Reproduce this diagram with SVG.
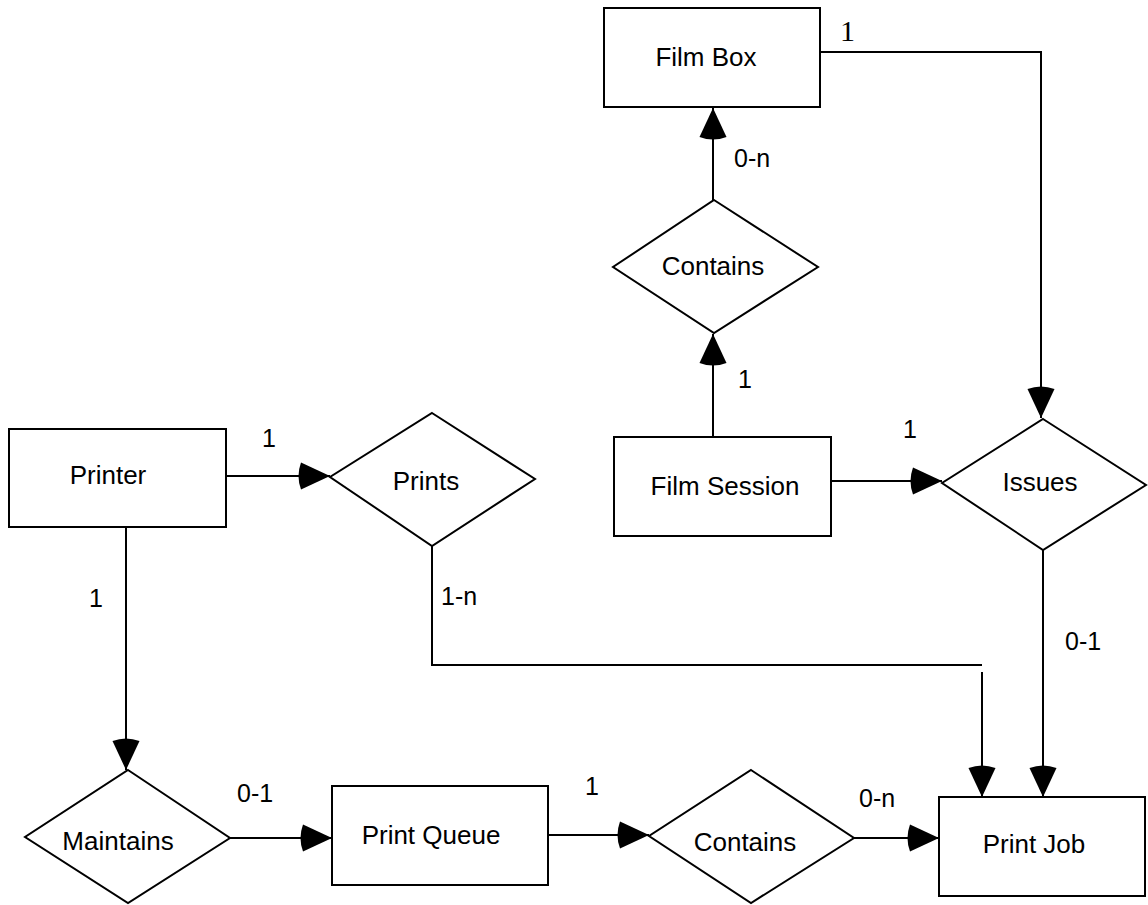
<svg xmlns="http://www.w3.org/2000/svg" width="1148" height="905" viewBox="0 0 1148 905">
<defs>
<marker id="arr" markerUnits="userSpaceOnUse" viewBox="-34 -15 36 30" markerWidth="36" markerHeight="30" refX="0" refY="0" orient="auto">
<path d="M0,0 L-29,-13.5 Q-34,0 -29,13.5 Z" fill="#000"/>
</marker>
</defs>
<style>
.box{fill:#fff;stroke:#000;stroke-width:2}
.dia{fill:#fff;stroke:#000;stroke-width:2}
.t{font-family:"Liberation Sans",Arial,sans-serif;font-size:26px;fill:#000;text-anchor:middle}
.lbl{font-family:"Liberation Sans",Arial,sans-serif;font-size:25px;fill:#000}
.ser{font-family:"Liberation Serif","Times New Roman",serif;font-size:30px;fill:#000}
.c{fill:none;stroke:#000;stroke-width:2}
</style>
<rect width="1148" height="905" fill="#fff"/>
<g id="connectors">
<path class="c" d="M713,200 V108" marker-end="url(#arr)"/>
<path class="c" d="M713,437 V334" marker-end="url(#arr)"/>
<path class="c" d="M820,52 H1041 V418" marker-end="url(#arr)"/>
<path class="c" d="M831,481 H942" marker-end="url(#arr)"/>
<path class="c" d="M1043,550 V797" marker-end="url(#arr)"/>
<path class="c" d="M226,476 H330" marker-end="url(#arr)"/>
<path class="c" d="M432,546 V665 H982 M982,672 V797" marker-end="url(#arr)"/>
<path class="c" d="M126,527 V770" marker-end="url(#arr)"/>
<path class="c" d="M230,838 H332" marker-end="url(#arr)"/>
<path class="c" d="M548,835 H649" marker-end="url(#arr)"/>
<path class="c" d="M854,838 H939" marker-end="url(#arr)"/>
<text class="ser" x="840" y="41">1</text>
<text class="lbl" x="734" y="167">0-n</text>
<text class="lbl" x="738" y="388">1</text>
<text class="lbl" x="903" y="438">1</text>
<text class="lbl" x="1065" y="650">0-1</text>
<text class="lbl" x="262" y="447">1</text>
<text class="lbl" x="441" y="605">1-n</text>
<text class="lbl" x="89" y="607">1</text>
<text class="lbl" x="237" y="802">0-1</text>
<text class="lbl" x="585" y="795">1</text>
<text class="lbl" x="859" y="807">0-n</text>
</g>
<g id="film-box">
<rect class="box" x="604" y="8" width="216" height="99"/>
<text class="t" x="706" y="66">Film Box</text>
</g>
<g id="contains-top">
<polygon class="dia" points="714,200 818,267 714,333 613,267"/>
<text class="t" x="713" y="275">Contains</text>
</g>
<g id="film-session">
<rect class="box" x="614" y="437" width="217" height="99"/>
<text class="t" x="725" y="495">Film Session</text>
</g>
<g id="issues">
<polygon class="dia" points="1043,419 1146,485 1043,550 942,483"/>
<text class="t" x="1040" y="491">Issues</text>
</g>
<g id="printer">
<rect class="box" x="9" y="429" width="217" height="98"/>
<text class="t" x="108" y="484">Printer</text>
</g>
<g id="prints">
<polygon class="dia" points="432,413 535,479 432,546 330,477"/>
<text class="t" x="426" y="490">Prints</text>
</g>
<g id="maintains">
<polygon class="dia" points="128,770 230,838 128,903 25,837"/>
<text class="t" x="118" y="850">Maintains</text>
</g>
<g id="print-queue">
<rect class="box" x="332" y="786" width="216" height="99"/>
<text class="t" x="431" y="844">Print Queue</text>
</g>
<g id="contains-bottom">
<polygon class="dia" points="751,770 854,838 751,903 649,836"/>
<text class="t" x="745" y="851">Contains</text>
</g>
<g id="print-job">
<rect class="box" x="939" y="797" width="206" height="99"/>
<text class="t" x="1034" y="853">Print Job</text>
</g>
</svg>
